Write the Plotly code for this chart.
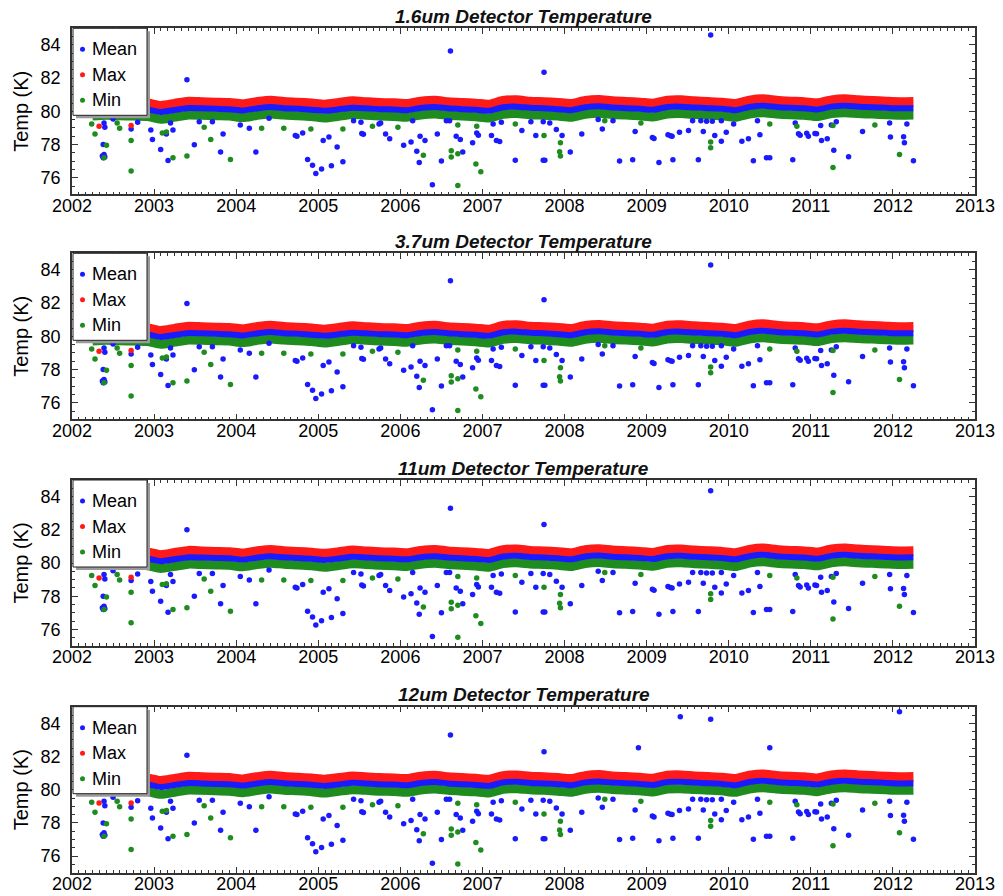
import plotly.graph_objects as go

# ---------------- data ----------------
PANEL_TITLES = ["1.6um Detector Temperature", "3.7um Detector Temperature",
                "11um Detector Temperature", "12um Detector Temperature"]
SERIES_NAMES = ["Mean", "Max", "Min"]
YEAR_TICKS = list(range(2002, 2014))
TEMP_TICKS = [76, 78, 80, 82, 84]

# band sample times (bi-monthly, decimal years)
BAND_YEARS = [2002.25, 2002.42, 2002.58, 2002.75, 2002.92,
              2003.08, 2003.25, 2003.42, 2003.58, 2003.75, 2003.92,
              2004.08, 2004.25, 2004.42, 2004.58, 2004.75, 2004.92,
              2005.08, 2005.25, 2005.42, 2005.58, 2005.75, 2005.92,
              2006.08, 2006.25, 2006.42, 2006.58, 2006.75, 2006.92,
              2007.08, 2007.25, 2007.42, 2007.58, 2007.75, 2007.92,
              2008.08, 2008.25, 2008.42, 2008.58, 2008.75, 2008.92,
              2009.08, 2009.25, 2009.42, 2009.58, 2009.75, 2009.92,
              2010.08, 2010.25, 2010.42, 2010.58, 2010.75, 2010.92,
              2011.08, 2011.25, 2011.42, 2011.58, 2011.75, 2011.92,
              2012.08, 2012.25]

# panels 1 & 2 (1.6um, 3.7um)
MAX_P12 = [80.50, 80.55, 80.52, 80.50, 80.48,
           80.32, 80.45, 80.58, 80.55, 80.52, 80.50,
           80.42, 80.55, 80.64, 80.56, 80.52, 80.47,
           80.40, 80.50, 80.60, 80.55, 80.50, 80.48,
           80.44, 80.58, 80.64, 80.55, 80.50, 80.46,
           80.40, 80.62, 80.66, 80.58, 80.55, 80.50,
           80.44, 80.62, 80.68, 80.60, 80.56, 80.52,
           80.46, 80.64, 80.66, 80.60, 80.56, 80.52,
           80.44, 80.64, 80.72, 80.63, 80.58, 80.55,
           80.48, 80.66, 80.72, 80.66, 80.62, 80.58,
           80.55, 80.56]
MEAN_P12 = [80.13, 80.17, 80.15, 80.13, 80.11,
            79.96, 80.08, 80.20, 80.18, 80.15, 80.13,
            80.05, 80.17, 80.26, 80.19, 80.15, 80.10,
            80.03, 80.12, 80.22, 80.18, 80.13, 80.11,
            80.07, 80.20, 80.26, 80.18, 80.13, 80.09,
            80.03, 80.24, 80.28, 80.21, 80.18, 80.13,
            80.07, 80.24, 80.30, 80.23, 80.19, 80.15,
            80.09, 80.26, 80.28, 80.23, 80.19, 80.15,
            80.07, 80.26, 80.34, 80.26, 80.21, 80.18,
            80.11, 80.28, 80.34, 80.28, 80.25, 80.21,
            80.18, 80.19]
MIN_P12 = [79.72, 79.76, 79.73, 79.71, 79.69,
           79.52, 79.65, 79.78, 79.76, 79.73, 79.71,
           79.62, 79.75, 79.84, 79.77, 79.73, 79.68,
           79.60, 79.70, 79.80, 79.76, 79.71, 79.69,
           79.64, 79.78, 79.84, 79.76, 79.71, 79.67,
           79.60, 79.82, 79.86, 79.79, 79.76, 79.71,
           79.64, 79.82, 79.88, 79.81, 79.77, 79.73,
           79.66, 79.84, 79.86, 79.81, 79.77, 79.73,
           79.64, 79.84, 79.92, 79.84, 79.79, 79.76,
           79.68, 79.86, 79.92, 79.86, 79.83, 79.79,
           79.76, 79.77]

# panel 3 (11um)
MAX_P3 = [80.65, 80.70, 80.67, 80.65, 80.63,
          80.47, 80.60, 80.73, 80.70, 80.67, 80.65,
          80.57, 80.70, 80.79, 80.71, 80.67, 80.62,
          80.55, 80.65, 80.75, 80.70, 80.65, 80.63,
          80.59, 80.73, 80.79, 80.70, 80.65, 80.61,
          80.55, 80.77, 80.81, 80.73, 80.70, 80.65,
          80.59, 80.77, 80.83, 80.75, 80.71, 80.67,
          80.61, 80.79, 80.81, 80.75, 80.71, 80.67,
          80.59, 80.79, 80.87, 80.78, 80.73, 80.70,
          80.63, 80.81, 80.87, 80.81, 80.77, 80.73,
          80.70, 80.71]
MEAN_P3 = [80.28, 80.32, 80.30, 80.28, 80.26,
           80.11, 80.23, 80.35, 80.33, 80.30, 80.28,
           80.20, 80.32, 80.41, 80.34, 80.30, 80.25,
           80.18, 80.27, 80.37, 80.33, 80.28, 80.26,
           80.22, 80.35, 80.41, 80.33, 80.28, 80.24,
           80.18, 80.39, 80.43, 80.36, 80.33, 80.28,
           80.22, 80.39, 80.45, 80.38, 80.34, 80.30,
           80.24, 80.41, 80.43, 80.38, 80.34, 80.30,
           80.22, 80.41, 80.49, 80.41, 80.36, 80.33,
           80.26, 80.43, 80.49, 80.43, 80.40, 80.36,
           80.33, 80.34]
MIN_P3 = [79.87, 79.91, 79.88, 79.86, 79.84,
          79.67, 79.80, 79.93, 79.91, 79.88, 79.86,
          79.77, 79.90, 79.99, 79.92, 79.88, 79.83,
          79.75, 79.85, 79.95, 79.91, 79.86, 79.84,
          79.79, 79.93, 79.99, 79.91, 79.86, 79.82,
          79.75, 79.97, 80.01, 79.94, 79.91, 79.86,
          79.79, 79.97, 80.03, 79.96, 79.92, 79.88,
          79.81, 79.99, 80.01, 79.96, 79.92, 79.88,
          79.79, 79.99, 80.07, 79.99, 79.94, 79.91,
          79.83, 80.01, 80.07, 80.01, 79.98, 79.94,
          79.91, 79.92]

# panel 4 (12um)
MAX_P4 = [80.70, 80.75, 80.72, 80.70, 80.68,
          80.52, 80.65, 80.78, 80.75, 80.72, 80.70,
          80.62, 80.75, 80.84, 80.76, 80.72, 80.67,
          80.60, 80.70, 80.80, 80.75, 80.70, 80.68,
          80.64, 80.78, 80.84, 80.75, 80.70, 80.66,
          80.60, 80.82, 80.86, 80.78, 80.75, 80.70,
          80.64, 80.82, 80.88, 80.80, 80.76, 80.72,
          80.66, 80.84, 80.86, 80.80, 80.76, 80.72,
          80.64, 80.84, 80.92, 80.83, 80.78, 80.75,
          80.68, 80.86, 80.92, 80.86, 80.82, 80.78,
          80.75, 80.76]
MEAN_P4 = [80.33, 80.37, 80.35, 80.33, 80.31,
           80.16, 80.28, 80.40, 80.38, 80.35, 80.33,
           80.25, 80.37, 80.46, 80.39, 80.35, 80.30,
           80.23, 80.32, 80.42, 80.38, 80.33, 80.31,
           80.27, 80.40, 80.46, 80.38, 80.33, 80.29,
           80.23, 80.44, 80.48, 80.41, 80.38, 80.33,
           80.27, 80.44, 80.50, 80.43, 80.39, 80.35,
           80.29, 80.46, 80.48, 80.43, 80.39, 80.35,
           80.27, 80.46, 80.54, 80.46, 80.41, 80.38,
           80.31, 80.48, 80.54, 80.48, 80.45, 80.41,
           80.38, 80.39]
MIN_P4 = [79.92, 79.96, 79.93, 79.91, 79.89,
          79.72, 79.85, 79.98, 79.96, 79.93, 79.91,
          79.82, 79.95, 80.04, 79.97, 79.93, 79.88,
          79.80, 79.90, 80.00, 79.96, 79.91, 79.89,
          79.84, 79.98, 80.04, 79.96, 79.91, 79.87,
          79.80, 80.02, 80.06, 79.99, 79.96, 79.91,
          79.84, 80.02, 80.08, 80.01, 79.97, 79.93,
          79.86, 80.04, 80.06, 80.01, 79.97, 79.93,
          79.84, 80.04, 80.12, 80.04, 79.99, 79.96,
          79.88, 80.06, 80.12, 80.06, 80.03, 79.99,
          79.96, 79.97]

# low outliers of the Mean (common to all detectors)
MEAN_LOW_YEARS = [2002.39, 2002.40, 2002.38, 2002.37, 2002.38, 2002.39, 2002.40, 2002.50,
                  2002.72, 2002.80, 2002.96, 2002.98, 2003.08, 2003.17, 2003.23, 2003.15,
                  2003.20, 2003.49, 2003.55, 2003.71, 2003.84, 2003.81, 2004.05, 2004.16,
                  2004.24, 2004.40, 2004.72, 2004.74, 2004.81, 2004.87, 2004.93, 2004.97,
                  2005.04, 2005.06, 2005.13, 2005.16, 2005.23, 2005.30, 2005.43, 2005.52,
                  2005.53, 2005.55, 2005.74, 2005.76, 2005.82, 2005.87, 2006.04, 2006.13,
                  2006.15, 2006.20, 2006.23, 2006.24, 2006.30, 2006.39, 2006.45, 2006.50,
                  2006.56, 2006.60, 2006.68, 2006.73, 2006.76, 2006.88, 2006.93, 2006.95,
                  2007.11, 2007.13, 2007.17, 2007.21, 2007.23, 2007.40, 2007.48, 2007.59,
                  2007.65, 2007.74, 2007.74, 2007.76, 2007.82, 2007.90, 2007.97, 2008.07,
                  2008.21, 2008.41, 2008.46, 2008.59, 2008.67, 2008.83, 2008.86, 2009.07,
                  2009.09, 2009.15, 2009.26, 2009.29, 2009.31, 2009.32, 2009.40, 2009.51,
                  2009.56, 2009.63, 2009.66, 2009.69, 2009.73, 2009.80, 2009.83, 2009.91,
                  2009.91, 2009.97, 2010.06, 2010.16, 2010.24, 2010.30, 2010.35, 2010.38,
                  2010.46, 2010.50, 2010.78, 2010.81, 2010.85, 2010.87, 2010.95, 2010.97,
                  2011.05, 2011.07, 2011.12, 2011.13, 2011.20, 2011.25, 2011.28, 2011.31,
                  2011.46, 2011.63, 2011.96, 2011.97, 2012.13, 2012.14, 2012.17, 2012.25]
MEAN_LOW_TEMPS = [79.30, 79.04, 78.00, 77.30, 77.20, 77.40, 77.25, 79.54,
                  78.94, 79.34, 78.88, 78.30, 77.70, 77.04, 78.88, 78.64,
                  79.30, 77.99, 79.37, 79.37, 78.64, 77.55, 79.18, 78.98,
                  77.55, 79.58, 78.54, 78.50, 78.70, 77.10, 76.75, 76.26,
                  76.52, 78.24, 78.45, 76.72, 77.85, 76.96, 79.43, 79.34,
                  78.67, 78.62, 79.24, 79.30, 78.64, 78.35, 77.95, 78.15,
                  79.43, 77.59, 76.92, 78.50, 78.24, 75.57, 78.64, 77.00,
                  79.43, 79.43, 78.50, 78.30, 77.55, 78.10, 78.70, 78.55,
                  78.54, 79.24, 78.24, 78.18, 79.34, 77.05, 78.84, 79.37,
                  78.54, 79.37, 77.05, 77.05, 79.30, 78.90, 78.54, 77.55,
                  78.64, 79.50, 78.94, 79.43, 77.00, 77.08, 78.78, 78.42,
                  78.36, 76.92, 78.58, 78.52, 78.50, 77.08, 78.74, 78.84,
                  79.43, 77.08, 79.43, 78.78, 79.40, 79.40, 78.54, 79.43,
                  78.19, 78.74, 79.24, 78.19, 78.35, 77.02, 79.43, 78.58,
                  77.20, 77.20, 77.08, 79.30, 78.65, 78.55, 78.68, 78.50,
                  78.67, 78.65, 79.14, 78.24, 78.35, 79.18, 77.65, 79.37,
                  77.26, 78.78, 79.30, 78.45, 78.46, 78.10, 79.24, 77.02]

# high outliers of the Mean, per detector
MEAN_HIGH_YEARS_P1 = [2003.40, 2006.61, 2007.75, 2009.78]
MEAN_HIGH_TEMPS_P1 = [81.90, 83.64, 82.35, 84.60]
MEAN_HIGH_YEARS_P2 = [2003.40, 2006.61, 2007.75, 2009.78]
MEAN_HIGH_TEMPS_P2 = [81.97, 83.35, 82.20, 84.30]
MEAN_HIGH_YEARS_P3 = [2003.40, 2006.61, 2007.75, 2009.78]
MEAN_HIGH_TEMPS_P3 = [82.00, 83.30, 82.32, 84.35]
MEAN_HIGH_YEARS_P4 = [2003.40, 2006.61, 2007.75, 2008.90, 2009.41, 2009.78, 2010.50, 2012.08]
MEAN_HIGH_TEMPS_P4 = [82.07, 83.30, 82.28, 82.52, 84.40, 84.25, 82.52, 84.70]

# low outliers of the Min (common)
MIN_LOW_YEARS = [2002.24, 2002.28, 2002.39, 2002.42, 2002.55, 2002.58, 2002.72, 2002.72,
                 2003.10, 2003.15, 2003.23, 2003.40, 2003.61, 2003.69, 2003.93, 2004.31,
                 2004.58, 2004.91, 2005.30, 2005.66, 2005.97, 2006.28, 2006.62, 2006.62,
                 2006.70, 2006.70, 2006.70, 2006.93, 2006.92, 2006.98, 2007.40, 2007.75,
                 2007.95, 2007.94, 2007.95, 2008.49, 2008.93, 2009.78, 2009.78, 2010.50,
                 2010.83, 2011.27, 2011.27, 2011.78, 2012.08]
MIN_LOW_TEMPS = [79.24, 78.64, 77.20, 77.95, 79.30, 78.98, 78.24, 76.40,
                 78.70, 78.75, 77.20, 77.30, 79.04, 78.30, 77.10, 78.98,
                 78.98, 78.94, 78.94, 79.10, 79.04, 77.35, 77.63, 77.25,
                 79.18, 77.45, 75.53, 79.10, 76.82, 76.36, 79.24, 78.54,
                 78.10, 77.57, 77.30, 79.43, 79.30, 78.15, 77.80, 79.24,
                 79.10, 79.14, 76.62, 79.18, 77.40]

# outliers of the Max, per detector
MAX_OUT_YEARS_P1 = [2002.33, 2002.72]
MAX_OUT_TEMPS_P1 = [79.10, 79.14]
MAX_OUT_YEARS_P2 = [2002.33, 2002.72, 2002.31, 2002.55]
MAX_OUT_TEMPS_P2 = [79.10, 79.14, 85.05, 85.05]
MAX_OUT_YEARS_P3 = [2002.33, 2002.72]
MAX_OUT_TEMPS_P3 = [79.10, 79.14]
MAX_OUT_YEARS_P4 = [2002.33, 2002.72, 2002.31, 2002.55]
MAX_OUT_TEMPS_P4 = [79.20, 79.20, 85.05, 85.05]

# ---------------- styling ----------------
W, H = 1003, 896
FONT = "Liberation Sans, Arial, Helvetica, sans-serif"
COLORS = {"Mean": "#1a1aff", "Max": "#ff1a1a", "Min": "#1e8c1e"}
BAND_WIDTH = {"Mean": 6, "Max": 10, "Min": 9}
PLOT_LEFT, PLOT_RIGHT = 72, 975
PANEL_TOPS = [28.3, 253.3, 480.0, 706.7]
PANEL_H = 166.0
# legend box geometry (px, relative to the panel's top-left corner)
LEG_W, LEG_H = 74, 87
LEG_ROWS = [21, 46.5, 72]
LEG_SYM_X, LEG_TXT_X = 9.5, 17

panels = [
    dict(title=PANEL_TITLES[0], band={"Max": MAX_P12, "Min": MIN_P12, "Mean": MEAN_P12},
         out={"Mean": (MEAN_LOW_YEARS + MEAN_HIGH_YEARS_P1, MEAN_LOW_TEMPS + MEAN_HIGH_TEMPS_P1),
              "Max": (MAX_OUT_YEARS_P1, MAX_OUT_TEMPS_P1),
              "Min": (MIN_LOW_YEARS, MIN_LOW_TEMPS)}),
    dict(title=PANEL_TITLES[1], band={"Max": MAX_P12, "Min": MIN_P12, "Mean": MEAN_P12},
         out={"Mean": (MEAN_LOW_YEARS + MEAN_HIGH_YEARS_P2, MEAN_LOW_TEMPS + MEAN_HIGH_TEMPS_P2),
              "Max": (MAX_OUT_YEARS_P2, MAX_OUT_TEMPS_P2),
              "Min": (MIN_LOW_YEARS, MIN_LOW_TEMPS)}),
    dict(title=PANEL_TITLES[2], band={"Max": MAX_P3, "Min": MIN_P3, "Mean": MEAN_P3},
         out={"Mean": (MEAN_LOW_YEARS + MEAN_HIGH_YEARS_P3, MEAN_LOW_TEMPS + MEAN_HIGH_TEMPS_P3),
              "Max": (MAX_OUT_YEARS_P3, MAX_OUT_TEMPS_P3),
              "Min": (MIN_LOW_YEARS, MIN_LOW_TEMPS)}),
    dict(title=PANEL_TITLES[3], band={"Max": MAX_P4, "Min": MIN_P4, "Mean": MEAN_P4},
         out={"Mean": (MEAN_LOW_YEARS + MEAN_HIGH_YEARS_P4, MEAN_LOW_TEMPS + MEAN_HIGH_TEMPS_P4),
              "Max": (MAX_OUT_YEARS_P4, MAX_OUT_TEMPS_P4),
              "Min": (MIN_LOW_YEARS, MIN_LOW_TEMPS)}),
]


def px_x(v):
    return v / W


def px_y(v):
    return 1 - v / H


fig = go.Figure()
layout = dict(width=W, height=H, margin=dict(l=0, r=0, t=0, b=0, autoexpand=False),
              paper_bgcolor="white", plot_bgcolor="white", showlegend=False,
              font=dict(family=FONT, color="black"), annotations=[], shapes=[])

x0, x1 = px_x(PLOT_LEFT), px_x(PLOT_RIGHT)
for i, p in enumerate(panels):
    n = i + 1
    sfx = "" if n == 1 else str(n)
    xa, ya = "x" + sfx, "y" + sfx
    top = PANEL_TOPS[i]
    dom = [px_y(top + PANEL_H), px_y(top)]

    # dense daily band (drawn as thick lines)
    for name in ["Max", "Min", "Mean"]:
        fig.add_trace(go.Scatter(x=BAND_YEARS, y=p["band"][name], mode="lines", name=name,
                                 line=dict(color=COLORS[name], width=BAND_WIDTH[name],
                                           shape="spline", smoothing=0.6),
                                 xaxis=xa, yaxis=ya, showlegend=False, hoverinfo="skip"))
    # scattered points
    for name in SERIES_NAMES:
        xs, ys = p["out"][name]
        fig.add_trace(go.Scatter(x=xs, y=ys, mode="markers", name=name,
                                 marker=dict(color=COLORS[name], size=5.5, symbol="circle"),
                                 xaxis=xa, yaxis=ya, showlegend=False, cliponaxis=False))

    axis_common = dict(showline=True, linewidth=1.5, linecolor="#333333", mirror="allticks",
                       ticks="inside", ticklen=6, tickwidth=1, tickcolor="#333333",
                       showgrid=False, zeroline=False, automargin=False,
                       tickfont=dict(family=FONT, size=18, color="black"))
    layout["xaxis" + sfx] = dict(domain=[x0, x1], anchor=ya, range=[2002, 2013],
                                 tickmode="array", tickvals=YEAR_TICKS,
                                 ticktext=[str(t) for t in YEAR_TICKS],
                                 minor=dict(tick0=2002, dtick=1 / 12, ticks="inside", ticklen=3,
                                            tickcolor="#333333", showgrid=False),
                                 ticklabelstandoff=-6,
                                 **axis_common)
    layout["yaxis" + sfx] = dict(domain=dom, anchor=xa, range=[75, 85],
                                 tickmode="array", tickvals=TEMP_TICKS,
                                 minor=dict(tick0=75, dtick=0.5, ticks="inside", ticklen=3,
                                            tickcolor="#333333", showgrid=False),
                                 ticklabelstandoff=6,
                                 title=dict(text="Temp (K)", font=dict(family=FONT, size=20),
                                            standoff=7),
                                 **axis_common)

    # legend box (with drop shadow) drawn in the upper-left corner of each panel
    lx0, ly0 = PLOT_LEFT + 1, top
    layout["shapes"].append(dict(type="rect", xref="paper", yref="paper", layer="above",
                                 x0=px_x(lx0 + 3), x1=px_x(lx0 + LEG_W + 3),
                                 y0=px_y(ly0 + LEG_H + 3), y1=px_y(ly0 + 3),
                                 fillcolor="#9a9a9a", line=dict(width=0)))
    layout["shapes"].append(dict(type="rect", xref="paper", yref="paper", layer="above",
                                 x0=px_x(lx0), x1=px_x(lx0 + LEG_W),
                                 y0=px_y(ly0 + LEG_H), y1=px_y(ly0),
                                 fillcolor="white", line=dict(color="#222222", width=1)))
    for name, row in zip(SERIES_NAMES, LEG_ROWS):
        cx, cy = lx0 + LEG_SYM_X, ly0 + row
        layout["shapes"].append(dict(type="circle", xref="paper", yref="paper", layer="above",
                                     x0=px_x(cx - 2.5), x1=px_x(cx + 2.5),
                                     y0=px_y(cy + 2.5), y1=px_y(cy - 2.5),
                                     fillcolor=COLORS[name], line=dict(width=0)))
        layout["annotations"].append(dict(
            text=name, xref="paper", yref="paper", x=px_x(lx0 + LEG_TXT_X), y=px_y(cy),
            xanchor="left", yanchor="middle", showarrow=False,
            font=dict(family=FONT, size=18, color="black")))

    layout["annotations"].append(dict(
        text=p["title"], xref="paper", yref="paper", x=(x0 + x1) / 2, y=px_y(top - 12),
        xanchor="center", yanchor="middle", showarrow=False,
        font=dict(family=FONT, size=19, color="#111111", weight="bold", style="italic")))

fig.update_layout(**layout)
fig.write_html("out.html")
